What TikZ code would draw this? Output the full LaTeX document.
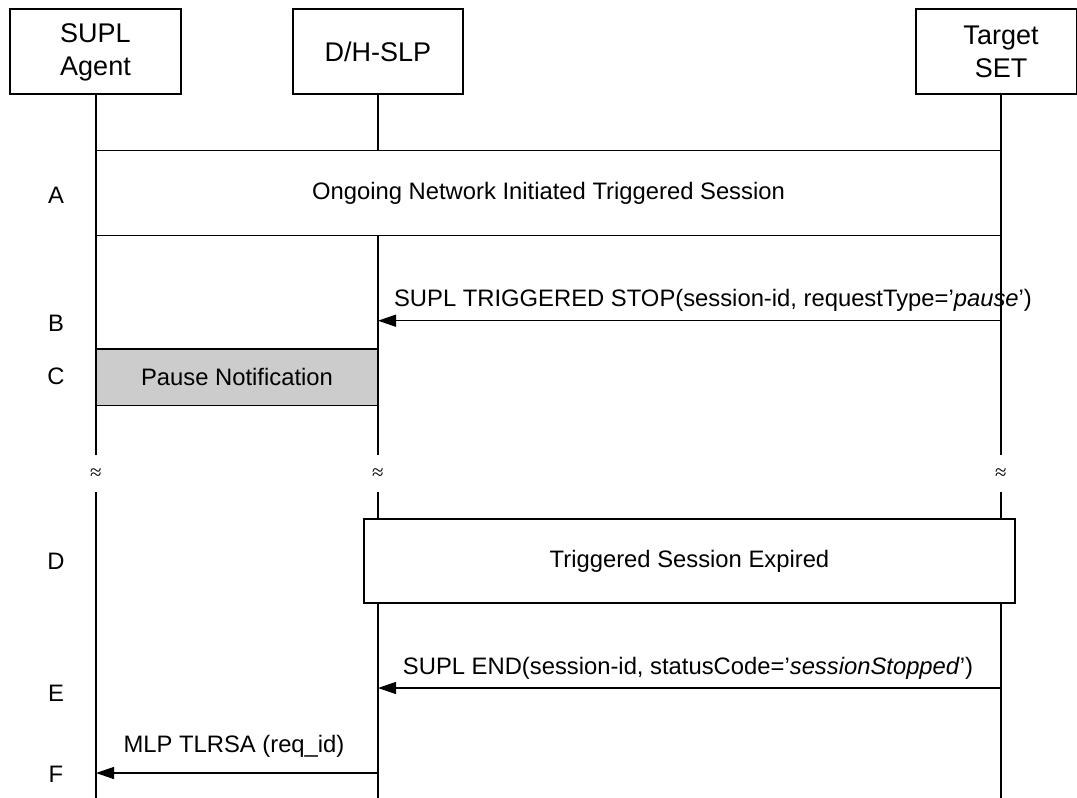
\documentclass[tikz,border=0pt]{standalone}
\usepackage{fontspec}
\setmainfont{Liberation Sans}
\newfontfamily\symserif{Liberation Serif}
\usetikzlibrary{arrows.meta}
\definecolor{notegray}{HTML}{CCCCCC}
\begin{document}
\begin{tikzpicture}[x=1pt,y=-1pt,
  line width=1.3pt,
  every node/.style={font=\fontsize{23.8}{28}\selectfont, inner sep=0pt, outer sep=0pt},
  headbox/.style={draw, fill=white, minimum height=85pt},
  headtext/.style={font=\fontsize{27}{33}\selectfont, align=center},
  phase/.style={draw, fill=white},
  note/.style={draw, fill=notegray},
  msg/.style={-{Triangle[length=18pt,width=12pt]}},
  steplabel/.style={anchor=base},
  msgtext/.style={anchor=base},
  brk/.style={font=\symserif\fontsize{21}{21}\selectfont}
]
\useasboundingbox (0,0) rectangle (1077,798);

% lifeline coordinates
\coordinate (a0) at (96,94);   \coordinate (a1) at (96,455);
\coordinate (a2) at (96,492);  \coordinate (a3) at (96,798);
\coordinate (s0) at (378,94);  \coordinate (s1) at (378,455);
\coordinate (s2) at (378,492); \coordinate (s3) at (378,798);
\coordinate (t0) at (1001,94); \coordinate (t1) at (1001,455);
\coordinate (t2) at (1001,492);\coordinate (t3) at (1001,798);

% lifelines
\draw (a0) -- (a1); \draw (a2) -- (a3);
\draw (s0) -- (s1); \draw (s2) -- (s3);
\draw (t0) -- (t1); \draw (t2) -- (t3);

% break marks
\node[brk] (ba) at (96,474) {≈};
\node[brk] (bs) at (378,474) {≈};
\node[brk] (bt) at (1001,474) {≈};

% headers
\node[headbox, minimum width=171pt] (agentbox) at (95.5,51.5) {};
\node[headtext] (agent) at (95.5,52) {SUPL\\Agent};
\node[headbox, minimum width=170pt] (slpbox) at (378,51.5) {};
\node[headtext] (slp) at (378,51.5) {D/H-SLP};
\node[headbox, minimum width=160.3pt] (setbox) at (996.15,51.5) {};
\node[headtext] (set) at (1001,52) {Target\\SET};

% phase boxes
\node[phase, minimum width=905pt, minimum height=85pt] (boxA) at (548.5,193.2)
  {Ongoing Network Initiated Triggered Session};
\node[note, minimum width=282pt, minimum height=56.7pt] (boxC) at (237,377.3)
  {Pause Notification};
\node[phase, minimum width=651pt, minimum height=84pt] (boxD) at (689.5,561)
  {Triggered Session Expired};

% messages
\coordinate (tB) at (1001,320.7); \coordinate (sB) at (378,320.7);
\draw[msg] (tB) -- (sB);
\node[msgtext] (mB) at (713,306) {SUPL TRIGGERED STOP(session-id, requestType=’\textit{pause}’)};

\coordinate (tE) at (1001,688); \coordinate (sE) at (378,688);
\draw[msg] (tE) -- (sE);
\node[msgtext] (mE) at (688,674) {SUPL END(session-id, statusCode=’\textit{sessionStopped}’)};

\coordinate (sF) at (378,773); \coordinate (aF) at (96,773);
\draw[msg] (sF) -- (aF);
\node[msgtext] (mF) at (234,752) {MLP TLRSA (req\_id)};

% step labels
\node[steplabel] (lA) at (56,203.3) {A};
\node[steplabel] (lB) at (56,331) {B};
\node[steplabel] (lC) at (56,384.3) {C};
\node[steplabel] (lD) at (56,569.5) {D};
\node[steplabel] (lE) at (56,701) {E};
\node[steplabel] (lF) at (56,782) {F};
\end{tikzpicture}
\end{document}
